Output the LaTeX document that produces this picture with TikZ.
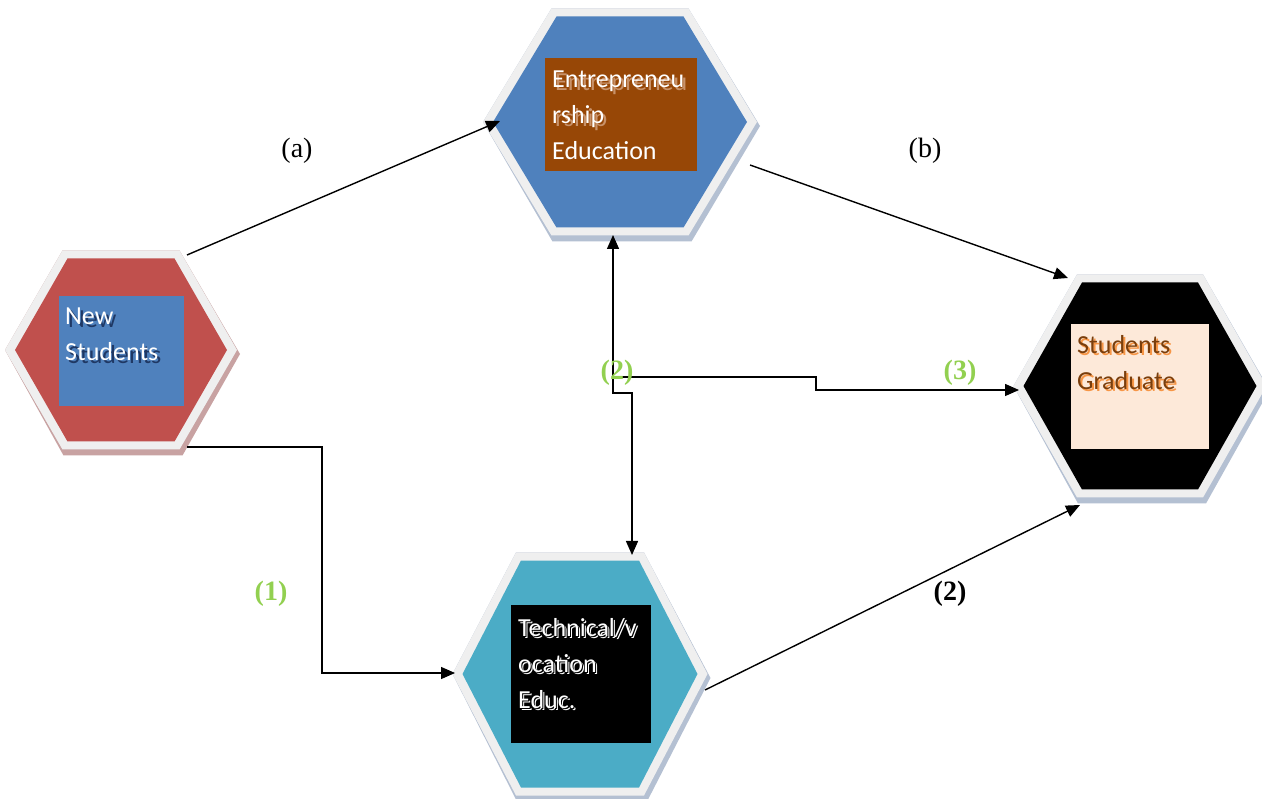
\documentclass[tikz,border=0pt]{standalone}
\usepackage{fontspec}
\setmainfont{Liberation Serif}
\newfontfamily\calfont{Carlito}
\usetikzlibrary{arrows.meta}
\definecolor{hexgray}{HTML}{EFEFEF}
\definecolor{eblue}{HTML}{4F81BD}
\definecolor{ebrown}{HTML}{974706}
\definecolor{nred}{HTML}{C0504D}
\definecolor{tteal}{HTML}{4BACC6}
\definecolor{gpeach}{HTML}{FDE9D9}
\definecolor{lgreen}{HTML}{92D050}
\definecolor{stripblue}{HTML}{B4C0D2}
\definecolor{stripred}{HTML}{C8A2A2}
\definecolor{gbrown}{HTML}{7A3E0C}
\definecolor{gorange}{HTML}{F79646}
\definecolor{eshadow}{HTML}{C8926A}
\definecolor{nshadow}{HTML}{1F3864}
% #1 center x, #2 center y, #3 half width, #4 half height, #5 half top edge, #6 fill, #7 strip colour
\newcommand{\hexdraw}[7]{%
  \fill[#7] ({#1-#3-10},{#2}) -- ({#1-#5-5},{#2-#4-8}) -- ({#1+#5+5},{#2-#4-8}) -- ({#1+#3+13},{#2+4}) -- ({#1+#5+8},{#2+#4+14}) -- ({#1-#5-4},{#2+#4+14}) -- cycle;
  \fill[hexgray] ({#1-#3-10},{#2}) -- ({#1-#5-5},{#2-#4-8}) -- ({#1+#5+5},{#2-#4-8}) -- ({#1+#3+10},{#2}) -- ({#1+#5+5},{#2+#4+8}) -- ({#1-#5-5},{#2+#4+8}) -- cycle;
  \fill[#6] ({#1-#3},{#2}) -- ({#1-#5},{#2-#4}) -- ({#1+#5},{#2-#4}) -- ({#1+#3},{#2}) -- ({#1+#5},{#2+#4}) -- ({#1-#5},{#2+#4}) -- cycle;
}
\tikzset{
  conn/.style={line width=1.4pt, draw=black},
  tip/.style={-{Triangle[length=14pt,width=12pt]}},
  boxtext/.style={anchor=north west, inner sep=0pt, align=left, font=\calfont\fontsize{26}{36}\selectfont},
  lab/.style={font=\fontsize{28}{30}\selectfont},
  glab/.style={font=\bfseries\fontsize{28}{30}\selectfont, text=lgreen},
}
\begin{document}
\begin{tikzpicture}[x=1pt,y=-1pt]
\useasboundingbox[fill=white] (0,0) rectangle (1262,799);
% hexagons
\hexdraw{620}{122}{127}{105.5}{63.5}{eblue}{stripblue}
\hexdraw{121}{350}{106}{91.5}{53.5}{nred}{stripred}
\hexdraw{1140}{386}{116.5}{103.5}{58}{black}{stripblue}
\hexdraw{580}{674}{117.5}{113.5}{59}{tteal}{stripblue}
% inner boxes
\node[fill=ebrown, minimum width=152pt, minimum height=113pt, inner sep=0pt, anchor=north west] (ebox) at (545,58) {};
\node[fill=eblue, minimum width=125pt, minimum height=110pt, inner sep=0pt, anchor=north west] (nbox) at (59,296) {};
\node[fill=gpeach, minimum width=138pt, minimum height=125pt, inner sep=0pt, anchor=north west] (gbox) at (1071,324) {};
\node[fill=black, minimum width=140pt, minimum height=138pt, inner sep=0pt, anchor=north west] (tbox) at (511,605) {};
% texts
\node[boxtext, text=eshadow] (etxs) at (555,74) {Entrepreneu\\rship};
\node[boxtext, text=white] (etx) at (552,71) {Entrepreneu\\rship\\Education};
\node[boxtext, text=nshadow] (ntxs) at (68,311) {New\\Students};
\node[boxtext, text=white] (ntx) at (65,308) {New\\Students};
\node[boxtext, text=gorange] (gtxs) at (1079,337) {Students\\Graduate};
\node[boxtext, text=gbrown] (gtx) at (1077,335) {Students\\Graduate};
\node[boxtext, text=white] (ttxs) at (520,620) {Technical/v\\ocation\\Educ.};
\node[boxtext, text=black] (ttxm) at (519,619) {Technical/v\\ocation\\Educ.};
\node[boxtext, text=white] (ttx) at (518,618) {Technical/v\\ocation\\Educ.};
% connector end points
\coordinate (nTR) at (187,255);
\coordinate (nBR) at (187,447);
\coordinate (eL) at (500,121);
\coordinate (eR) at (750,165);
\coordinate (eB) at (613,235);
\coordinate (gTL) at (1068,278);
\coordinate (gL) at (1019,390);
\coordinate (gBL) at (1080,505);
\coordinate (tL) at (455,673);
\coordinate (tT) at (632,555);
\coordinate (tR) at (705,690);
\coordinate (k1) at (322,447);
\coordinate (k2) at (322,673);
\coordinate (v1) at (613,393);
\coordinate (v2) at (632,393);
\coordinate (h0) at (613,377);
\coordinate (h1) at (816,377);
\coordinate (h2) at (816,390);
% connectors
\draw[conn, tip] (nTR) -- (eL);
\draw[conn, tip] (eR) -- (gTL);
\draw[conn, tip] (tR) -- (gBL);
\draw[conn, tip] (nBR) -- (k1) -- (k2) -- (tL);
\draw[conn, {Triangle[length=14pt,width=12pt]}-{Triangle[length=14pt,width=12pt]}] (eB) -- (v1) -- (v2) -- (tT);
\draw[conn, tip] (h0) -- (h1) -- (h2) -- (gL);
% labels
\node[lab] (la) at (297,151) {(a)};
\node[lab] (lb) at (925,151) {(b)};
\node[glab] (l1) at (271,594) {(1)};
\node[glab] (l2g) at (617,373) {(2)};
\node[glab] (l3) at (960,373) {(3)};
\node[lab, font=\bfseries\fontsize{28}{30}\selectfont] (l2) at (950,594) {(2)};
\end{tikzpicture}
\end{document}
